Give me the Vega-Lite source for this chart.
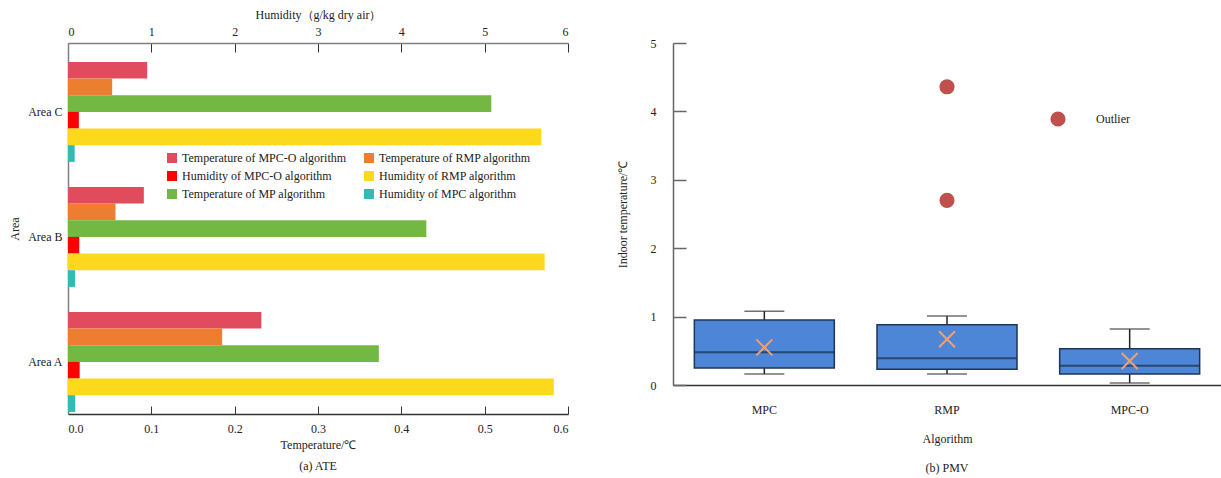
{
  "$schema": "https://vega.github.io/schema/vega-lite/v6.json",
  "background": "white",
  "padding": {"left": 8, "top": 8, "right": 0, "bottom": 5},
  "config": {
    "font": "Liberation Serif",
    "view": {"stroke": null},
    "axis": {"labelFont": "Liberation Serif", "titleFont": "Liberation Serif", "labelFontSize": 12, "titleFontSize": 12, "titleFontWeight": "normal", "labelColor": "#222", "titleColor": "#222", "grid": false},
    "legend": {"labelFont": "Liberation Serif", "labelFontSize": 12, "labelColor": "#222"},
    "title": {"font": "Liberation Serif", "fontSize": 12, "fontWeight": "normal", "color": "#222"}
  },
  "datasets": {
    "ate": [
      {"area": "Area C", "series": "Temperature of MPC-O algorithm", "measure": "Temperature", "value": 0.095},
      {"area": "Area C", "series": "Temperature of RMP algorithm", "measure": "Temperature", "value": 0.053},
      {"area": "Area C", "series": "Temperature of MP algorithm", "measure": "Temperature", "value": 0.508},
      {"area": "Area C", "series": "Humidity of MPC-O algorithm", "measure": "Humidity", "value": 0.13},
      {"area": "Area C", "series": "Humidity of RMP algorithm", "measure": "Humidity", "value": 5.68},
      {"area": "Area C", "series": "Humidity of MPC algorithm", "measure": "Humidity", "value": 0.08},
      {"area": "Area B", "series": "Temperature of MPC-O algorithm", "measure": "Temperature", "value": 0.091},
      {"area": "Area B", "series": "Temperature of RMP algorithm", "measure": "Temperature", "value": 0.057},
      {"area": "Area B", "series": "Temperature of MP algorithm", "measure": "Temperature", "value": 0.43},
      {"area": "Area B", "series": "Humidity of MPC-O algorithm", "measure": "Humidity", "value": 0.135},
      {"area": "Area B", "series": "Humidity of RMP algorithm", "measure": "Humidity", "value": 5.72},
      {"area": "Area B", "series": "Humidity of MPC algorithm", "measure": "Humidity", "value": 0.085},
      {"area": "Area A", "series": "Temperature of MPC-O algorithm", "measure": "Temperature", "value": 0.232},
      {"area": "Area A", "series": "Temperature of RMP algorithm", "measure": "Temperature", "value": 0.185},
      {"area": "Area A", "series": "Temperature of MP algorithm", "measure": "Temperature", "value": 0.373},
      {"area": "Area A", "series": "Humidity of MPC-O algorithm", "measure": "Humidity", "value": 0.14},
      {"area": "Area A", "series": "Humidity of RMP algorithm", "measure": "Humidity", "value": 5.83},
      {"area": "Area A", "series": "Humidity of MPC algorithm", "measure": "Humidity", "value": 0.087}
    ],
    "pmv": [
      {"algorithm": "MPC", "lower": 0.16, "q1": 0.25, "median": 0.48, "q3": 0.95, "upper": 1.08, "mean": 0.55},
      {"algorithm": "RMP", "lower": 0.16, "q1": 0.23, "median": 0.39, "q3": 0.88, "upper": 1.01, "mean": 0.67},
      {"algorithm": "MPC-O", "lower": 0.03, "q1": 0.16, "median": 0.28, "q3": 0.53, "upper": 0.82, "mean": 0.35}
    ],
    "outliers": [
      {"algorithm": "RMP", "value": 4.36, "label": "Outlier"},
      {"algorithm": "RMP", "value": 2.7, "label": "Outlier"}
    ]
  },
  "resolve": {"scale": {"color": "independent"}, "legend": {"color": "independent"}},
  "spacing": 47,
  "hconcat": [
    {
      "width": 500,
      "height": 371,
      "title": {"text": "(a) ATE", "orient": "bottom", "offset": 11},
      "data": {"name": "ate"},
      "encoding": {
        "y": {
          "field": "area", "type": "nominal",
          "scale": {"domain": ["Area C", "Area B", "Area A"], "paddingInner": 0.2, "paddingOuter": 0.084, "align": 0.9},
          "axis": {"title": "Area", "ticks": false, "labelPadding": 6, "titlePadding": 6, "domainColor": "#808080", "domainWidth": 1.5}
        },
        "yOffset": {
          "field": "series", "type": "nominal",
          "scale": {"domain": ["Temperature of MPC-O algorithm", "Temperature of RMP algorithm", "Temperature of MP algorithm", "Humidity of MPC-O algorithm", "Humidity of RMP algorithm", "Humidity of MPC algorithm"], "paddingInner": 0, "paddingOuter": 0}
        },
        "color": {
          "field": "series", "type": "nominal",
          "scale": {
            "domain": ["Temperature of MPC-O algorithm", "Humidity of MPC-O algorithm", "Temperature of MP algorithm", "Temperature of RMP algorithm", "Humidity of RMP algorithm", "Humidity of MPC algorithm"],
            "range": ["#e14b5e", "#ff0000", "#72b843", "#ed7d31", "#fcd91c", "#30bcb4"]
          },
          "legend": {"title": null, "orient": "none", "legendX": 98, "legendY": 109, "columns": 2, "symbolType": "square", "symbolSize": 100, "symbolStrokeWidth": 0, "rowPadding": 6, "columnPadding": 16, "labelOffset": 4, "labelLimit": 300}
        }
      },
      "layer": [
        {
          "transform": [{"filter": "datum.measure === 'Temperature'"}],
          "mark": {"type": "bar"},
          "encoding": {
            "x": {
              "field": "value", "type": "quantitative",
              "scale": {"domain": [0, 0.6], "nice": false},
              "axis": {"orient": "bottom", "title": "Temperature/℃", "values": [0, 0.1, 0.2, 0.3, 0.4, 0.5, 0.6], "format": ".1f", "tickSize": -8, "tickColor": "#333", "domainColor": "#333", "domainWidth": 1.5, "labelPadding": 17, "titlePadding": 5}
            }
          }
        },
        {
          "transform": [{"filter": "datum.measure === 'Humidity'"}],
          "mark": {"type": "bar"},
          "encoding": {
            "x": {
              "field": "value", "type": "quantitative",
              "scale": {"domain": [0, 6], "nice": false},
              "axis": {"orient": "top", "title": "Humidity（g/kg dry air）", "values": [0, 1, 2, 3, 4, 5, 6], "format": "d", "tickSize": -9, "tickColor": "#333", "domainColor": "#808080", "domainWidth": 1.5, "labelPadding": 14, "titlePadding": 4}
            }
          }
        }
      ],
      "resolve": {"scale": {"x": "independent"}}
    },
    {
      "width": 548,
      "height": 342,
      "title": {"text": "(b) PMV", "orient": "bottom", "offset": 19},
      "encoding": {
        "x": {
          "field": "algorithm", "type": "nominal",
          "scale": {"domain": ["MPC", "RMP", "MPC-O"], "paddingInner": 0, "paddingOuter": 0},
          "axis": {"title": "Algorithm", "labelAngle": 0, "ticks": false, "labelPadding": 19, "titlePadding": 18, "domainColor": "#333", "domainWidth": 1.5}
        }
      },
      "layer": [
        {
          "data": {"name": "pmv"},
          "mark": {"type": "rule", "color": "#222", "strokeWidth": 1.5},
          "encoding": {
            "y": {"field": "lower", "type": "quantitative", "scale": {"domain": [0, 5], "nice": false},
              "axis": {"title": "Indoor temperature/℃", "values": [0, 1, 2, 3, 4, 5], "format": "d", "tickSize": -13, "tickColor": "#666", "tickWidth": 1.5, "domainColor": "#666", "domainWidth": 1.5, "labelPadding": 30, "titlePadding": 21}},
            "y2": {"field": "upper"}
          }
        },
        {
          "data": {"name": "pmv"},
          "mark": {"type": "tick", "color": "#333", "size": 40, "thickness": 1.5},
          "encoding": {"y": {"field": "lower", "type": "quantitative"}}
        },
        {
          "data": {"name": "pmv"},
          "mark": {"type": "tick", "color": "#333", "size": 40, "thickness": 1.5},
          "encoding": {"y": {"field": "upper", "type": "quantitative"}}
        },
        {
          "data": {"name": "pmv"},
          "mark": {"type": "bar", "size": 140, "fill": "#4d86d6", "stroke": "#1f3558", "strokeWidth": 1.5},
          "encoding": {"y": {"field": "q1", "type": "quantitative"}, "y2": {"field": "q3"}}
        },
        {
          "data": {"name": "pmv"},
          "mark": {"type": "tick", "color": "#1a2c4a", "size": 140, "thickness": 2},
          "encoding": {"y": {"field": "median", "type": "quantitative"}}
        },
        {
          "data": {"name": "pmv"},
          "mark": {"type": "point", "shape": "M-1,-1L1,1M-1,1L1,-1", "size": 256, "filled": false, "stroke": "#f0a070", "strokeWidth": 2, "opacity": 1},
          "encoding": {"y": {"field": "mean", "type": "quantitative"}}
        },
        {
          "data": {"name": "outliers"},
          "mark": {"type": "point", "shape": "circle", "filled": true, "size": 230, "opacity": 1},
          "encoding": {
            "y": {"field": "value", "type": "quantitative"},
            "color": {"field": "label", "type": "nominal", "scale": {"domain": ["Outlier"], "range": ["#c0504d"]},
              "legend": {"title": null, "orient": "none", "legendX": 377, "legendY": 68, "symbolSize": 230, "symbolType": "circle", "labelOffset": 30, "symbolStrokeWidth": 0}}
          }
        }
      ]
    }
  ]
}
